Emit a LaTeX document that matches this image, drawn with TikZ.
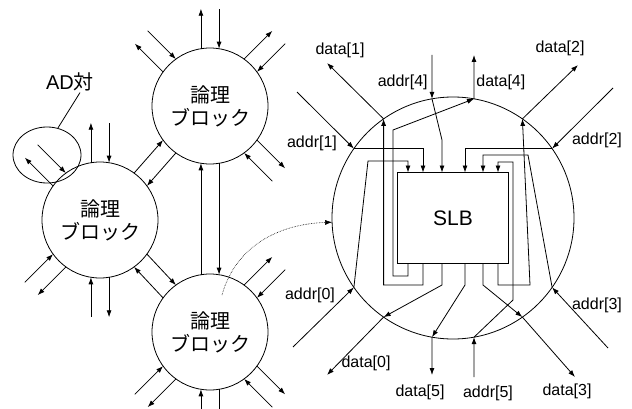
\documentclass[tikz,border=0pt]{standalone}
\usepackage{fontspec}
\setmainfont{Liberation Sans}
\newfontfamily\jp{Noto Sans CJK JP}
\usetikzlibrary{arrows.meta,shapes.geometric}

\tikzset{
  blk/.style={circle,draw,minimum size=116pt,inner sep=0pt,outer sep=0pt,align=center,
    font=\jp\fontsize{20}{23}\selectfont},
  sig/.style={font=\fontsize{16}{19}\selectfont,inner sep=1pt},
}

\begin{document}
\begin{tikzpicture}[x=1pt,y=1pt,line width=0.8pt,>={Latex[length=7pt,width=5pt]}]
        \useasboundingbox (0,0) rectangle (632,408);

        \node[blk] (lb1) at (210,302) {論理\\ブロック};
        \node[blk] (lb2) at (100,188) {論理\\ブロック};
        \node[blk] (lb3) at (210,76) {論理\\ブロック};

        % free wire pairs: out on the left, in on the right
        \foreach \a in {45,90,135,315} {
          \pgfmathtruncatemacro\l{\a+9}
          \pgfmathtruncatemacro\r{\a-9}
          \draw[->] (lb1.\l) -- ++(\a:40);
          \draw[<-] (lb1.\r) -- ++(\a:40);
        }
        \foreach \a in {90,135,225,270} {
          \pgfmathtruncatemacro\l{\a+9}
          \pgfmathtruncatemacro\r{\a-9}
          \draw[->] (lb2.\l) -- ++(\a:40);
          \draw[<-] (lb2.\r) -- ++(\a:40);
        }
        \foreach \a in {45,225,270,315} {
          \pgfmathtruncatemacro\l{\a+9}
          \pgfmathtruncatemacro\r{\a-9}
          \draw[->] (lb3.\l) -- ++(\a:40);
          \draw[<-] (lb3.\r) -- ++(\a:40);
        }

        % links between the blocks
        \draw[->] (lb1.234) -- (lb2.36);
        \draw[->] (lb2.54) -- (lb1.216);
        \draw[->] (lb1.279) -- (lb3.81);
        \draw[->] (lb3.99) -- (lb1.261);
        \draw[->] (lb2.324) -- (lb3.126);
        \draw[->] (lb3.144) -- (lb2.306);

        \node[ellipse,draw,minimum width=68pt,minimum height=56pt,inner sep=0pt] (adpair) at (47,253) {};
        \node[font=\fontsize{20}{23}\selectfont,inner sep=1pt] (adlbl) at (70,326) {AD{\jp 対}};
        \draw ([xshift=10pt]adlbl.south) -- (adpair.68);

        % inside one block
        \node[circle,draw,minimum size=242pt,inner sep=0pt,outer sep=0pt] (det) at (453,190) {};
        \node[draw,minimum width=111pt,minimum height=91pt,inner sep=0pt,outer sep=0pt,
          font=\fontsize{21}{25}\selectfont] (slb) at (453,190) {SLB};

        \coordinate (tap) at (222,113);
        \draw[->,densely dotted,line width=0.6pt] (tap) .. controls (236,163) and (280,184) .. (det.182);

        \coordinate (a0) at (293,61);
        \coordinate (a1) at (297,316);
        \coordinate (a2) at (613,320);
        \coordinate (a3) at (608,60);
        \coordinate (a4) at (432,353);
        \coordinate (a5) at (474,31);
        \coordinate (d0) at (327,33);
        \coordinate (d1) at (327,345);
        \coordinate (d2) at (578,343);
        \coordinate (d3) at (575,31);
        \coordinate (d4) at (474,353);
        \coordinate (d5) at (432,33);

        \draw[->] (a0) -- (det.215);
        \draw[->] (a1) -- (det.145);
        \draw[->] (a2) -- (det.35);
        \draw[->] (a3) -- (det.325);
        \draw[->] (a4) -- (det.100);
        \draw[->] (a5) -- (det.280);
        \draw[->] (det.235) -- (d0);
        \draw[->] (det.125) -- (d1);
        \draw[->] (det.55) -- (d2);
        \draw[->] (det.305) -- (d3);
        \draw[->] (det.80) -- (d4);
        \draw[->] (det.260) -- (d5);

        % addresses into the top of the SLB
        \draw[->] (det.215) -- (368,247) -| ([xshift=-45pt]slb.north);
        \draw[->] (det.145) -| ([xshift=-30pt]slb.north);
        \draw[->] (det.100) -- (442,268) -- ([xshift=-11pt]slb.north);
        \draw[->] (det.35) -| ([xshift=12pt]slb.north);
        \draw[->] (det.325) -- (528,253) -| ([xshift=30pt]slb.north);
        \draw[->] (det.280) -- (513,108) -- (513,246) -| ([xshift=45pt]slb.north);

        % data out of the bottom
        \draw[<-] (det.80) -- (393,278) -- (393,132) -| ([xshift=-45pt]slb.south);
        \draw[<-] (det.125) -- (383.6,123) -| ([xshift=-30pt]slb.south);
        \draw[<-] (det.235) -- (442,123) -- ([xshift=-11pt]slb.south);
        \draw[<-] (det.260) -- (465,123) -- ([xshift=12pt]slb.south);
        \draw[<-] (det.305) -- (483,123) -- ([xshift=30pt]slb.south);
        \draw[<-] (det.55) -- (530,123) -| ([xshift=45pt]slb.south);

        \node[sig] (ld1) at (340,358) {data[1]};
        \node[sig,anchor=east] (la4) at (429,326) {addr[4]};
        \node[sig,anchor=west] (ld4) at (475,326) {data[4]};
        \node[sig] (ld2) at (560,360) {data[2]};
        \node[sig] (la1) at (312,265) {addr[1]};
        \node[sig] (la2) at (597,268) {addr[2]};
        \node[sig] (la0) at (310,113) {addr[0]};
        \node[sig] (la3) at (597,103) {addr[3]};
        \node[sig] (ld0) at (366,45) {data[0]};
        \node[sig] (ld5) at (420,16) {data[5]};
        \node[sig] (la5) at (488,15) {addr[5]};
        \node[sig] (ld3) at (567,17) {data[3]};
      \end{tikzpicture}
\end{document}
